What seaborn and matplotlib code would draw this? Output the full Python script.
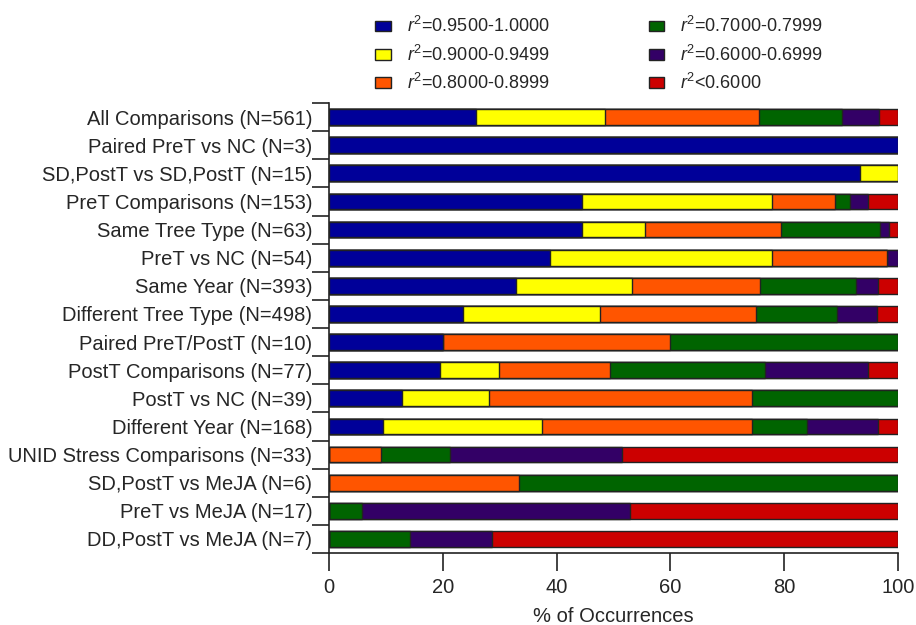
import numpy as np
import pandas as pd
import matplotlib
matplotlib.use("Agg")
import matplotlib.pyplot as plt
import seaborn as sns
from matplotlib.patches import Patch

# comparison groups (top to bottom) and their sizes
categories = [
    "All Comparisons", "Paired PreT vs NC", "SD,PostT vs SD,PostT", "PreT Comparisons",
    "Same Tree Type", "PreT vs NC", "Same Year", "Different Tree Type",
    "Paired PreT/PostT", "PostT Comparisons", "PostT vs NC", "Different Year",
    "UNID Stress Comparisons", "SD,PostT vs MeJA", "PreT vs MeJA", "DD,PostT vs MeJA",
]
n_total = [561, 3, 15, 153, 63, 54, 393, 498, 10, 77, 39, 168, 33, 6, 17, 7]

# counts per r^2 bin
r2_95_100 = [145, 3, 14, 68, 28, 21, 129, 117, 2, 15, 5, 16, 0, 0, 0, 0]
r2_90_95 = [127, 0, 1, 51, 7, 21, 80, 120, 0, 8, 6, 47, 0, 0, 0, 0]
r2_80_90 = [152, 0, 0, 17, 15, 11, 89, 137, 4, 15, 18, 62, 3, 2, 0, 0]
r2_70_80 = [82, 0, 0, 4, 11, 0, 66, 71, 4, 21, 10, 16, 4, 4, 1, 1]
r2_60_70 = [36, 0, 0, 5, 1, 1, 15, 35, 0, 14, 0, 21, 10, 0, 8, 1]
r2_lt_60 = [19, 0, 0, 8, 1, 0, 14, 18, 0, 4, 0, 6, 16, 0, 8, 5]

bin_labels = [
    "$r^2$=0.9500-1.0000", "$r^2$=0.9000-0.9499", "$r^2$=0.8000-0.8999",
    "$r^2$=0.7000-0.7999", "$r^2$=0.6000-0.6999", "$r^2$<0.6000",
]
bin_colors = ["#000099", "#FFFF00", "#FF5500", "#006400", "#330066", "#CC0000"]

sns.set_style("ticks")
plt.rcParams["font.family"] = ["Liberation Sans", "DejaVu Sans"]
plt.rcParams["mathtext.fontset"] = "custom"
plt.rcParams["mathtext.rm"] = "Liberation Sans"
plt.rcParams["mathtext.it"] = "Liberation Sans:italic"

labels = [f"{c} (N={n})" for c, n in zip(categories, n_total)]
counts = np.array([r2_95_100, r2_90_95, r2_80_90, r2_70_80, r2_60_70, r2_lt_60], dtype=float)
pct = counts / np.array(n_total, dtype=float) * 100
cum = np.cumsum(pct, axis=0)

fig = plt.figure(figsize=(9.16, 6.25), dpi=100)
ax = fig.add_axes([0.3592, 0.1152, 0.6211, 0.72])

# stacked bars: draw cumulative totals from the widest down
for i in range(len(bin_colors) - 1, -1, -1):
    df = pd.DataFrame({"label": labels, "value": cum[i]})
    sns.barplot(data=df, x="value", y="label", order=labels, color=bin_colors[i],
                saturation=1, width=0.56, edgecolor="#222222", linewidth=1, ax=ax)

ax.set_xlim(0, 100)
ax.set_ylim(len(labels) - 0.5, -0.5)
ax.set_xticks([0, 20, 40, 60, 80, 100])
ax.set_yticks(np.arange(len(labels)))
ax.set_yticks(np.arange(len(labels) + 1) - 0.5, minor=True)
ax.tick_params(axis="y", which="major", length=0, pad=12, labelsize=14.5)
ax.tick_params(axis="y", which="minor", length=12, width=1.2, color="#222222")
ax.tick_params(axis="x", length=13, width=1.2, color="#222222", labelsize=14.5, pad=5)
ax.set_ylabel("")
ax.set_xlabel("% of Occurrences", fontsize=14.5, labelpad=7)
sns.despine(ax=ax)
for s in ["left", "bottom"]:
    ax.spines[s].set_linewidth(1.2)
    ax.spines[s].set_color("#222222")

handles = [Patch(facecolor=c, edgecolor="#222222", linewidth=1) for c in bin_colors]
fig.legend(handles, bin_labels, ncol=2, loc="upper left", bbox_to_anchor=(0.392, 1.0),
           frameon=False, fontsize=13, handlelength=0.85, handleheight=0.55,
           handletextpad=0.9, columnspacing=5.5, labelspacing=0.45)

fig.savefig("out.png", dpi=100)
